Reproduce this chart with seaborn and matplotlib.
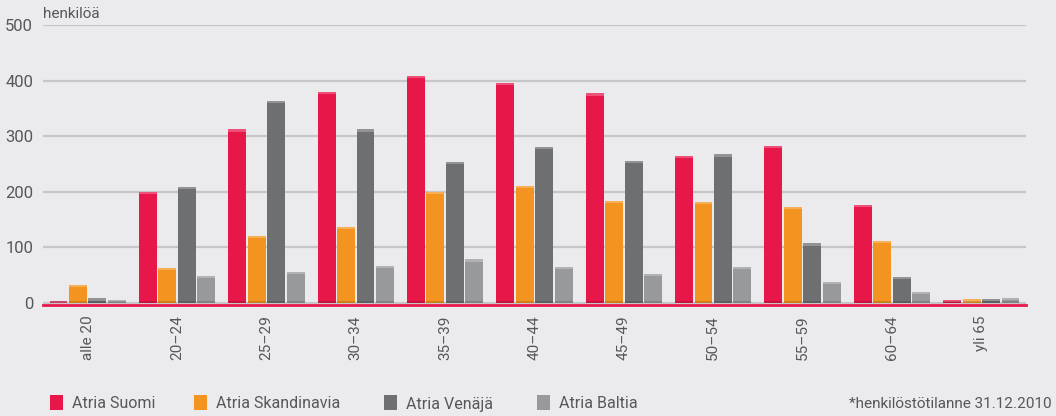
import matplotlib
matplotlib.use("Agg")
import matplotlib.pyplot as plt
import seaborn as sns
import pandas as pd

# Age groups and headcount per company unit
age_groups = ["alle 20", "20–24", "25–29", "30–34", "35–39", "40–44",
              "45–49", "50–54", "55–59", "60–64", "yli 65"]
units = ["Atria Suomi", "Atria Skandinavia", "Atria Venäjä", "Atria Baltia"]
suomi = [3, 200, 312, 380, 408, 396, 377, 264, 282, 176, 5]
skandinavia = [32, 63, 120, 136, 200, 210, 183, 181, 172, 111, 6]
venaja = [8, 208, 363, 312, 253, 280, 255, 267, 107, 46, 7]
baltia = [5, 48, 55, 66, 78, 64, 52, 64, 37, 20, 9]
y_ticks = [0, 100, 200, 300, 400, 500]

colors = ["#e8174a", "#f39320", "#6e6f71", "#98999b"]
bg = "#ebebed"
text_col = "#56575a"

df = pd.DataFrame({
    "ikä": age_groups * 4,
    "yksikkö": sum([[u] * len(age_groups) for u in units], []),
    "henkilöä": suomi + skandinavia + venaja + baltia,
})

sns.set_theme(style="white")
plt.rcParams["font.family"] = ["Roboto", "DejaVu Sans"]

fig = plt.figure(figsize=(10.56, 4.16), dpi=100, facecolor=bg)
ax = fig.add_axes([43 / 1056, 1 - 304.5 / 416, (1026 - 43) / 1056, (304.5 - 25) / 416])
ax.set_facecolor(bg)

sns.barplot(data=df, x="ikä", y="henkilöä", hue="yksikkö", hue_order=units,
            order=age_groups, palette=colors, width=0.87, gap=0.08,
            saturation=1, linewidth=0, edgecolor="none",
            legend=False, ax=ax, zorder=3)

# light band on top and darker band at the foot of every bar
for p in list(ax.patches):
    h = p.get_height()
    if h > 0:
        band = min(h, 4)
        ax.add_patch(plt.Rectangle((p.get_x(), h - band), p.get_width(), band,
                                   facecolor="white", alpha=0.25, lw=0, zorder=4))
        ax.add_patch(plt.Rectangle((p.get_x(), 0), p.get_width(), min(h, 3),
                                   facecolor="black", alpha=0.15, lw=0, zorder=4))

ax.set_ylim(-3, 500)
ax.set_xlim(-0.5, len(age_groups) - 0.5)
ax.set_yticks(y_ticks)
ax.yaxis.grid(True, color="#c6c6c8", lw=1.6, zorder=0)
ax.set_axisbelow(True)
for s in ["top", "right", "left"]:
    ax.spines[s].set_visible(False)
ax.spines["bottom"].set_color("#e8174a")
ax.spines["bottom"].set_linewidth(2.0)
ax.spines["bottom"].set_zorder(5)
ax.tick_params(axis="y", length=0, pad=7, labelsize=12, labelcolor=text_col)
ax.tick_params(axis="x", length=0, pad=8, labelsize=11, labelcolor=text_col)
plt.setp(ax.get_xticklabels(), rotation=90, va="top", ha="center")
ax.set_xlabel("")
ax.set_ylabel("")

fig.text(43 / 1056, 1 - 14 / 416, "henkilöä", fontsize=11, color=text_col,
         ha="left", va="center")

# legend entries placed along the bottom edge
legend_x = [50, 194, 384, 537]
for x, c, label in zip(legend_x, colors, units):
    fig.patches.append(plt.Rectangle((x / 1056, 1 - 410 / 416), 13 / 1056, 15 / 416,
                                     facecolor=c, lw=0, transform=fig.transFigure,
                                     figure=fig))
    fig.text((x + 22) / 1056, 1 - 404 / 416, label, fontsize=11.5, color=text_col,
             ha="left", va="center")

fig.text(1052 / 1056, 1 - 404 / 416, "*henkilöstötilanne 31.12.2010", fontsize=11,
         color=text_col, ha="right", va="center")

fig.savefig("out.png", dpi=100, facecolor=bg)
